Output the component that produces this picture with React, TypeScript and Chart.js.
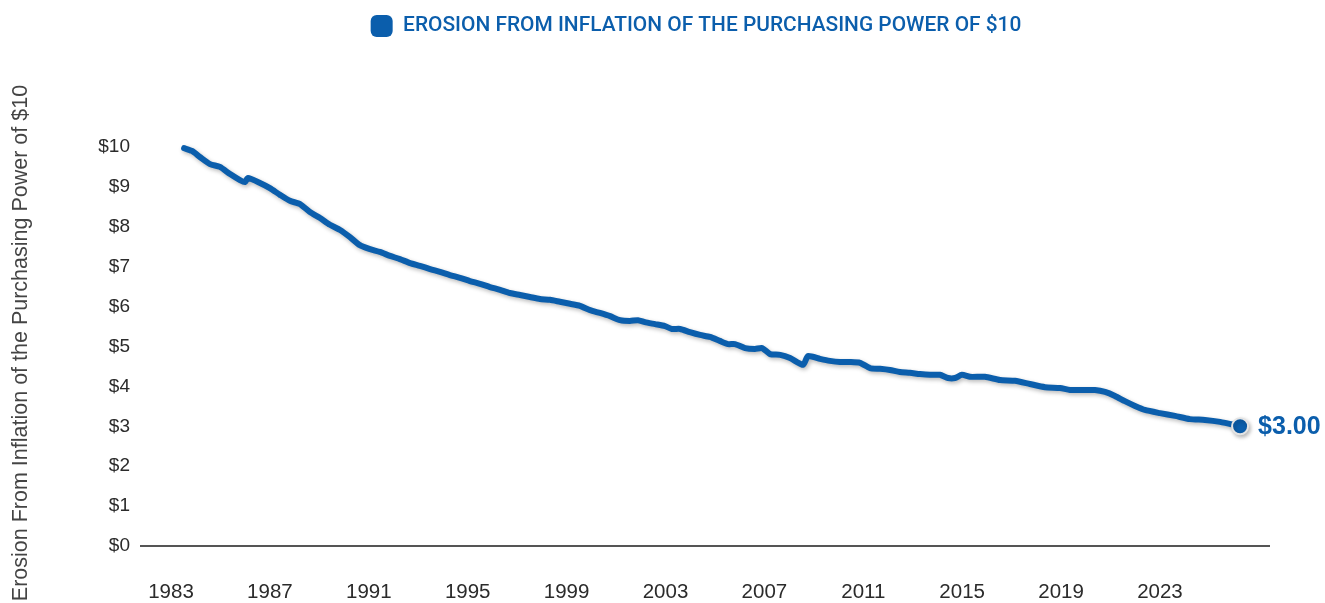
import React, { useEffect, useRef } from "react";
import { Chart, registerables } from "chart.js";

Chart.register(...registerables);

const seriesLabel = "EROSION FROM INFLATION OF THE PURCHASING POWER OF $10";
const axisTitle = "Erosion From Inflation of the Purchasing Power of $10";

const dates = [
  1983.53, 1983.85, 1984.17, 1984.58, 1984.98,
  1985.39, 1985.79, 1985.99, 1986.11, 1986.6,
  1987.0, 1987.41, 1987.81, 1988.22, 1988.62,
  1989.03, 1989.43, 1989.84, 1990.24, 1990.64,
  1991.05, 1991.45, 1991.86, 1992.26, 1992.67,
  1993.07, 1993.48, 1993.88, 1994.28, 1994.69,
  1995.09, 1995.5, 1995.9, 1996.31, 1996.71,
  1997.12, 1997.52, 1997.92, 1998.33, 1998.73,
  1999.14, 1999.54, 1999.95, 2000.35, 2000.76,
  2001.16, 2001.56, 2001.89, 2002.17, 2002.58,
  2002.98, 2003.26, 2003.59, 2003.99, 2004.4,
  2004.8, 2005.2, 2005.53, 2005.81, 2006.22,
  2006.62, 2006.91, 2007.23, 2007.64, 2008.04,
  2008.57, 2008.76, 2009.25, 2009.65, 2010.06,
  2010.46, 2010.87, 2011.27, 2011.68, 2012.08,
  2012.48, 2012.89, 2013.29, 2013.7, 2014.1,
  2014.43, 2014.71, 2014.99, 2015.32, 2015.92,
  2016.53, 2017.14, 2017.74, 2018.35, 2018.96,
  2019.36, 2019.97, 2020.37, 2020.78, 2021.18,
  2021.58, 2021.99, 2022.39, 2023.0, 2023.61,
  2024.21, 2024.82, 2025.43, 2026.24,
];

const values = [
  9.97, 9.9, 9.75, 9.57, 9.5,
  9.32, 9.17, 9.12, 9.22, 9.1,
  8.97, 8.8, 8.65, 8.57, 8.37,
  8.22, 8.05, 7.92, 7.74, 7.54,
  7.44, 7.37, 7.27, 7.19, 7.09,
  7.02, 6.94, 6.87, 6.79, 6.72,
  6.64, 6.57, 6.49, 6.42, 6.34,
  6.29, 6.24, 6.19, 6.17, 6.12,
  6.07, 6.02, 5.91, 5.84, 5.76,
  5.66, 5.64, 5.66, 5.61, 5.56,
  5.51, 5.44, 5.44, 5.36, 5.29,
  5.24, 5.14, 5.06, 5.06, 4.96,
  4.94, 4.96, 4.81, 4.79, 4.71,
  4.54, 4.76, 4.69, 4.64, 4.61,
  4.61, 4.59, 4.46, 4.44, 4.41,
  4.36, 4.34, 4.31, 4.29, 4.29,
  4.21, 4.21, 4.29, 4.24, 4.24,
  4.16, 4.14, 4.06, 3.98, 3.96,
  3.91, 3.91, 3.91, 3.86, 3.76,
  3.63, 3.51, 3.41, 3.33, 3.26,
  3.18, 3.16, 3.11, 3.0,
];

const xTickYears = [1983, 1987, 1991, 1995, 1999, 2003, 2007, 2011, 2015, 2019, 2023];
const yTickValues = [0, 1, 2, 3, 4, 5, 6, 7, 8, 9, 10];

const BLUE = "#0b5eac";
const FONT = "'Liberation Sans', Arial, sans-serif";
const LEGEND_FONT = "Roboto, 'Liberation Sans', Arial, sans-serif";

export default function App() {
  const ref = useRef<HTMLCanvasElement | null>(null);

  useEffect(() => {
    if (!ref.current) return;
    const last = values.length - 1;

    const legendSpace = {
      id: "legendSpace",
      beforeInit(chart: any) {
        const orig = chart.legend.fit;
        chart.legend.fit = function fit() {
          orig.bind(chart.legend)();
          this.height = 140;
        };
      },
      afterLayout(chart: any) {
        if (chart.legend) {
          chart.legend.left -= 9;
          chart.legend.right -= 9;
        }
      },
    };

    const lineShadow = {
      id: "lineShadow",
      beforeDatasetDraw(chart: any) {
        const c = chart.ctx;
        c.save();
        c.shadowColor = "rgba(0,0,0,0.28)";
        c.shadowBlur = 4;
        c.shadowOffsetX = 1.5;
        c.shadowOffsetY = 2;
      },
      afterDatasetDraw(chart: any) {
        chart.ctx.restore();
      },
    };

    const endLabel = {
      id: "endLabel",
      afterDatasetsDraw(chart: any) {
        const meta = chart.getDatasetMeta(0);
        const pt = meta.data[last];
        if (!pt) return;
        const c = chart.ctx;
        c.save();
        c.font = `bold 25px ${FONT}`;
        c.fillStyle = BLUE;
        c.textAlign = "left";
        c.textBaseline = "middle";
        c.fillText("$" + values[last].toFixed(2), pt.x + 18, pt.y + 1);
        c.restore();
      },
    };

    const chart = new Chart(ref.current, {
      type: "line",
      data: {
        datasets: [
          {
            label: seriesLabel,
            data: dates.map((d, i) => ({ x: d, y: values[i] })),
            borderColor: BLUE,
            backgroundColor: BLUE,
            borderWidth: 6,
            borderJoinStyle: "round",
            borderCapStyle: "round",
            tension: 0.2,
            pointRadius: (ctx: any) => (ctx.dataIndex === last ? 8 : 0),
            pointHoverRadius: (ctx: any) => (ctx.dataIndex === last ? 8 : 0),
            pointBackgroundColor: BLUE,
            pointBorderColor: "#e4e4e4",
            pointBorderWidth: 2,
            fill: false,
          },
        ],
      },
      options: {
        responsive: false,
        animation: false,
        layout: { padding: { left: 0, right: 56, top: 0, bottom: 0 } },
        plugins: {
          tooltip: { enabled: false },
          legend: {
            display: true,
            position: "top",
            align: "center",
            fullSize: false,
            labels: {
              boxWidth: 22,
              boxHeight: 22,
              padding: 15,
              color: BLUE,
              font: { family: LEGEND_FONT, size: 20.9, weight: "500" },
              useBorderRadius: true,
              borderRadius: 6,
              generateLabels: (ch: any) =>
                ch.data.datasets.map((ds: any, i: number) => ({
                  text: ds.label,
                  fillStyle: BLUE,
                  strokeStyle: BLUE,
                  lineWidth: 0,
                  fontColor: BLUE,
                  hidden: false,
                  datasetIndex: i,
                  borderRadius: 6,
                })),
            },
          },
        },
        scales: {
          x: {
            type: "linear",
            min: 1981.787,
            max: 2027.41,
            grid: { display: false, drawTicks: false, tickLength: 0 },
            border: { display: true, color: "#555", width: 2 },
            afterBuildTicks: (scale: any) => {
              scale.ticks = xTickYears.map((v) => ({ value: v }));
            },
            afterFit: (scale: any) => {
              scale.height = 57;
            },
            ticks: {
              color: "#2b2b2b",
              font: { family: FONT, size: 20.5 },
              padding: 34,
              maxRotation: 0,
              autoSkip: false,
              callback: (v: any) => String(v),
            },
          },
          y: {
            type: "linear",
            min: 0,
            max: 10.175,
            grid: { display: false, drawTicks: false, tickLength: 0 },
            border: { display: false },
            afterBuildTicks: (scale: any) => {
              scale.ticks = yTickValues.map((v) => ({ value: v }));
            },
            afterFit: (scale: any) => {
              scale.width = 141;
            },
            ticks: {
              color: "#2b2b2b",
              font: { family: FONT, size: 19 },
              padding: 11,
              autoSkip: false,
              callback: (v: any) => "$" + v,
            },
            title: {
              display: true,
              text: axisTitle,
              color: "#444",
              font: { family: FONT, size: 21.5 },
              padding: { top: 8, bottom: 0 },
            },
          },
        },
      } as any,
      plugins: [legendSpace, lineShadow, endLabel],
    });

    return () => chart.destroy();
  }, []);

  return (
    <div style={{ position: "absolute", left: 0, top: 0, width: 1325, height: 603, background: "#fff" }}>
      <canvas ref={ref} width={1325} height={603} style={{ display: "block" }} />
    </div>
  );
}
